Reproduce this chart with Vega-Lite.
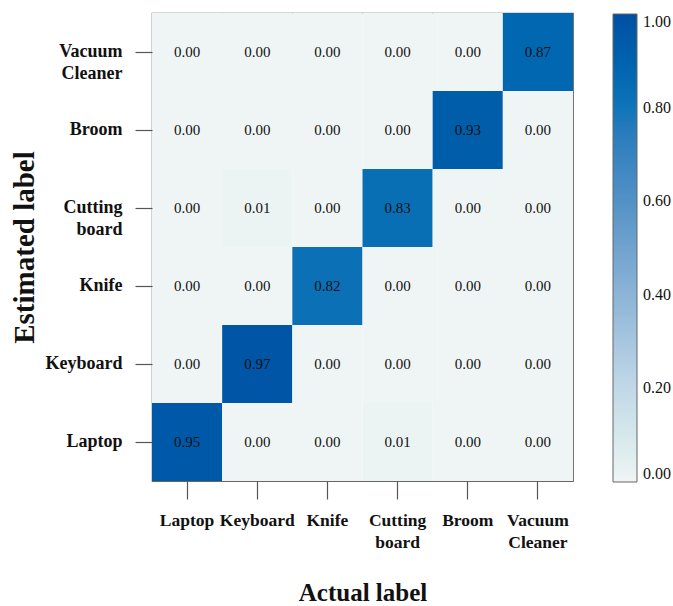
{
  "$schema": "https://vega.github.io/schema/vega-lite/v6.json",
  "width": 421,
  "height": 468,
  "autosize": {"type": "none"},
  "padding": {"left": 152, "top": 13, "right": 100, "bottom": 125},
  "background": "white",
  "config": {
    "font": "Liberation Serif",
    "view": {"stroke": "#666666", "strokeWidth": 1.2}
  },
  "data": {
    "values": [
      {"actual": "Laptop", "estimated": "Vacuum Cleaner", "value": 0.00},
      {"actual": "Keyboard", "estimated": "Vacuum Cleaner", "value": 0.00},
      {"actual": "Knife", "estimated": "Vacuum Cleaner", "value": 0.00},
      {"actual": "Cutting board", "estimated": "Vacuum Cleaner", "value": 0.00},
      {"actual": "Broom", "estimated": "Vacuum Cleaner", "value": 0.00},
      {"actual": "Vacuum Cleaner", "estimated": "Vacuum Cleaner", "value": 0.87},
      {"actual": "Laptop", "estimated": "Broom", "value": 0.00},
      {"actual": "Keyboard", "estimated": "Broom", "value": 0.00},
      {"actual": "Knife", "estimated": "Broom", "value": 0.00},
      {"actual": "Cutting board", "estimated": "Broom", "value": 0.00},
      {"actual": "Broom", "estimated": "Broom", "value": 0.93},
      {"actual": "Vacuum Cleaner", "estimated": "Broom", "value": 0.00},
      {"actual": "Laptop", "estimated": "Cutting board", "value": 0.00},
      {"actual": "Keyboard", "estimated": "Cutting board", "value": 0.01},
      {"actual": "Knife", "estimated": "Cutting board", "value": 0.00},
      {"actual": "Cutting board", "estimated": "Cutting board", "value": 0.83},
      {"actual": "Broom", "estimated": "Cutting board", "value": 0.00},
      {"actual": "Vacuum Cleaner", "estimated": "Cutting board", "value": 0.00},
      {"actual": "Laptop", "estimated": "Knife", "value": 0.00},
      {"actual": "Keyboard", "estimated": "Knife", "value": 0.00},
      {"actual": "Knife", "estimated": "Knife", "value": 0.82},
      {"actual": "Cutting board", "estimated": "Knife", "value": 0.00},
      {"actual": "Broom", "estimated": "Knife", "value": 0.00},
      {"actual": "Vacuum Cleaner", "estimated": "Knife", "value": 0.00},
      {"actual": "Laptop", "estimated": "Keyboard", "value": 0.00},
      {"actual": "Keyboard", "estimated": "Keyboard", "value": 0.97},
      {"actual": "Knife", "estimated": "Keyboard", "value": 0.00},
      {"actual": "Cutting board", "estimated": "Keyboard", "value": 0.00},
      {"actual": "Broom", "estimated": "Keyboard", "value": 0.00},
      {"actual": "Vacuum Cleaner", "estimated": "Keyboard", "value": 0.00},
      {"actual": "Laptop", "estimated": "Laptop", "value": 0.95},
      {"actual": "Keyboard", "estimated": "Laptop", "value": 0.00},
      {"actual": "Knife", "estimated": "Laptop", "value": 0.00},
      {"actual": "Cutting board", "estimated": "Laptop", "value": 0.01},
      {"actual": "Broom", "estimated": "Laptop", "value": 0.00},
      {"actual": "Vacuum Cleaner", "estimated": "Laptop", "value": 0.00}
    ]
  },
  "encoding": {
    "x": {
      "field": "actual",
      "type": "nominal",
      "sort": ["Laptop", "Keyboard", "Knife", "Cutting board", "Broom", "Vacuum Cleaner"],
      "scale": {"paddingInner": 0, "paddingOuter": 0},
      "axis": {
        "title": "Actual label",
        "titleFont": "Liberation Serif",
        "titleFontSize": 25,
        "titleFontWeight": "bold",
        "titleColor": "#111111",
        "titlePadding": 30,
        "labelAngle": 0,
        "labelFont": "Liberation Serif",
        "labelFontSize": 17.5,
        "labelFontWeight": "bold",
        "labelColor": "#111111",
        "labelPadding": 12,
        "labelBaseline": "top",
        "labelLineHeight": 22,
        "labelExpr": "split(datum.label, ' ')",
        "domain": false,
        "tickSize": 18,
        "tickColor": "#555555",
        "tickWidth": 1.2
      }
    },
    "y": {
      "field": "estimated",
      "type": "nominal",
      "sort": ["Vacuum Cleaner", "Broom", "Cutting board", "Knife", "Keyboard", "Laptop"],
      "scale": {"paddingInner": 0, "paddingOuter": 0},
      "axis": {
        "title": "Estimated label",
        "titleFont": "Liberation Serif",
        "titleFontSize": 29,
        "titleFontWeight": "bold",
        "titleColor": "#111111",
        "titlePadding": 5,
        "labelFont": "Liberation Serif",
        "labelFontSize": 18,
        "labelFontWeight": "bold",
        "labelColor": "#111111",
        "labelPadding": 13,
        "labelLineHeight": 22,
        "labelExpr": "split(datum.label, ' ')",
        "domain": false,
        "tickSize": 17,
        "tickColor": "#555555",
        "tickWidth": 1.2
      }
    }
  },
  "layer": [
    {
      "mark": {"type": "rect"},
      "encoding": {
        "color": {
          "field": "value",
          "type": "quantitative",
          "scale": {
            "domain": [0, 0.2, 0.4, 0.6, 0.8, 1],
            "range": ["#eff5f4", "#c2d8e8", "#8cb4d7", "#5292c6", "#0f74b8", "#0050a2"]
          },
          "legend": {
            "title": null,
            "orient": "none",
            "legendX": 461,
            "legendY": 1,
            "direction": "vertical",
            "gradientLength": 468,
            "gradientThickness": 24,
            "gradientStrokeColor": "#666666",
            "gradientStrokeWidth": 1,
            "values": [0, 0.2, 0.4, 0.6, 0.8, 1],
            "format": ".2f",
            "labelFont": "Liberation Serif",
            "labelFontSize": 16,
            "labelColor": "#111111",
            "labelOffset": 6,
            "labelOverlap": false
          }
        }
      }
    },
    {
      "mark": {"type": "text", "font": "Liberation Serif", "fontSize": 15, "color": "#111111"},
      "encoding": {
        "text": {"field": "value", "type": "quantitative", "format": ".2f"}
      }
    }
  ]
}
